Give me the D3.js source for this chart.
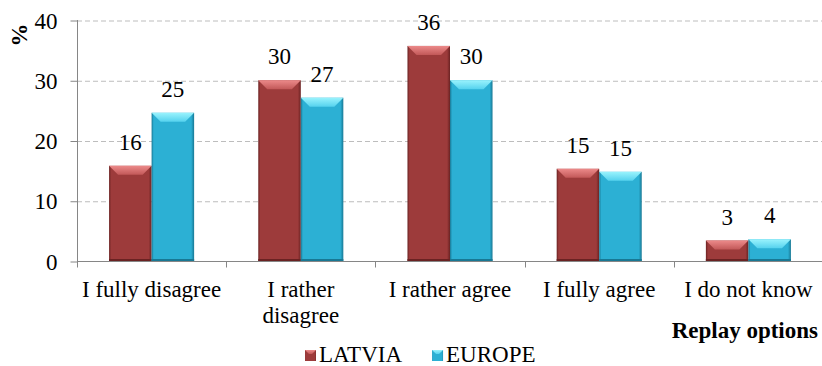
<!DOCTYPE html>
<html>
<head>
<meta charset="utf-8">
<script src="https://cdn.jsdelivr.net/npm/d3@7"></script>
<style>
    body { margin: 0; background: #fff; }
    svg text { font-family: "Liberation Serif", "Times New Roman", "DejaVu Serif", serif !important; fill: #000; }
</style>
</head>
<body>
<div class="chart"></div>
<script>
const categories = ["I fully disagree", "I rather disagree", "I rather agree", "I fully agree", "I do not know"];
const seriesNames = ["LATVIA", "EUROPE"];
const latvia = [15.8, 30, 35.7, 15.3, 3.4];
const europe = [24.6, 27.1, 30, 14.8, 3.6];
const yTicks = [0, 10, 20, 30, 40];

const FONT = '"Liberation Serif", "Times New Roman", serif';
const colors = {
    LATVIA: { body: "#9d3b3b", edge: "#6a2222", top1: "#ec8a8a", top2: "#c25858" },
    EUROPE: { body: "#2cb0d4", edge: "#187894", top1: "#9af3fd", top2: "#55d2ee" }
};

function init() {
    let W = 822, H = 366;
    let margin = { top: 20, right: -1, bottom: 105, left: 77 };
    let width = W - margin.left - margin.right;
    let height = H - margin.top - margin.bottom;

    let svg = d3.select(".chart").append("svg")
        .attr("width", W)
        .attr("height", H)
        .attr("font-family", FONT);

    let defs = svg.append("defs");
    seriesNames.forEach(s => {
        let g = defs.append("linearGradient").attr("id", "body-" + s)
            .attr("x1", 0).attr("x2", 1).attr("y1", 0).attr("y2", 0);
        g.append("stop").attr("offset", "0%").attr("stop-color", colors[s].edge);
        g.append("stop").attr("offset", "5%").attr("stop-color", colors[s].body);
        g.append("stop").attr("offset", "93%").attr("stop-color", colors[s].body);
        g.append("stop").attr("offset", "100%").attr("stop-color", colors[s].edge);
        let t = defs.append("linearGradient").attr("id", "top-" + s)
            .attr("x1", 0).attr("x2", 0).attr("y1", 0).attr("y2", 1);
        t.append("stop").attr("offset", "0%").attr("stop-color", colors[s].top1);
        t.append("stop").attr("offset", "100%").attr("stop-color", colors[s].top2);
    });

    let plot = svg.append("g")
        .attr("transform", `translate(${margin.left},${margin.top})`);

    let x0 = d3.scaleBand()
        .domain(categories)
        .range([0, width])
        .paddingInner(0.43)
        .paddingOuter(0.215);

    let x1 = d3.scaleBand()
        .domain(seriesNames)
        .range([0, x0.bandwidth()]);

    let y = d3.scaleLinear()
        .domain([0, 40])
        .range([height, 0]);

    // dashed gridlines
    let grid = plot.append("g").attr("class", "grid")
        .call(d3.axisLeft(y).tickValues(yTicks.slice(1)).tickSize(-width).tickFormat(""));
    grid.select(".domain").remove();
    grid.selectAll("line")
        .attr("stroke", "#bdbdbd")
        .attr("stroke-dasharray", "5,3")
        .attr("transform", "translate(0,0.5)");

    // y axis
    let yAxis = plot.append("g").attr("class", "y-axis")
        .attr("transform", "translate(0.5,0)")
        .call(d3.axisLeft(y).tickValues(yTicks).tickSize(7).tickPadding(13));
    yAxis.attr("font-family", FONT);
    yAxis.select(".domain").attr("stroke", "#868686").attr("d", `M0,${y(40)}V${height}`);
    yAxis.selectAll(".tick line").attr("stroke", "#868686").attr("transform", "translate(0,0.5)");
    yAxis.selectAll(".tick text")
        .style("font-family", FONT)
        .style("font-size", "23px")
        .attr("dy", "0.35em");

    // bars
    let data = categories.map((c, i) => ({
        cat: c,
        values: [{ s: "LATVIA", v: latvia[i] }, { s: "EUROPE", v: europe[i] }]
    }));

    let groups = plot.append("g").selectAll("g")
        .data(data).join("g")
        .attr("transform", d => `translate(${x0(d.cat)},0)`);

    let bars = groups.selectAll("g.bar")
        .data(d => d.values).join("g").attr("class", "bar");

    let bw = x1.bandwidth();
    let bev = 9;

    bars.append("rect")
        .attr("x", d => x1(d.s))
        .attr("y", d => y(d.v))
        .attr("width", bw)
        .attr("height", d => y(0) - y(d.v))
        .attr("fill", d => `url(#body-${d.s})`);

    bars.append("rect")
        .attr("x", d => x1(d.s))
        .attr("y", y(0) - 2)
        .attr("width", bw)
        .attr("height", 2)
        .attr("fill", d => colors[d.s].edge);

    bars.append("polygon")
        .attr("points", d => {
            let xa = x1(d.s), xb = xa + bw, yt = y(d.v);
            return [[xa, yt], [xb, yt], [xb - bev, yt + bev], [xa + bev, yt + bev]].join(" ");
        })
        .attr("fill", d => `url(#top-${d.s})`);

    bars.append("text")
        .attr("x", d => x1(d.s) + bw / 2)
        .attr("y", d => y(d.v) - 16)
        .attr("text-anchor", "middle")
        .style("font-family", FONT)
        .style("font-size", "23px")
        .text(d => d3.format(".0f")(d.v));

    // x axis line and boundary ticks
    let xAxis = plot.append("g").attr("class", "x-axis")
        .attr("transform", `translate(0,${height + 0.5})`);
    xAxis.append("line")
        .attr("x1", 0).attr("x2", width)
        .attr("stroke", "#868686");
    xAxis.selectAll("line.tick")
        .data(d3.range(categories.length))
        .join("line").attr("class", "tick")
        .attr("x1", i => Math.round(i * x0.step()) + 0.5)
        .attr("x2", i => Math.round(i * x0.step()) + 0.5)
        .attr("y1", 0).attr("y2", 6)
        .attr("stroke", "#868686");

    let labels = xAxis.selectAll("text.cat")
        .data(categories).join("text").attr("class", "cat")
        .attr("x", d => x0(d) + x0.bandwidth() / 2)
        .attr("y", 35)
        .attr("text-anchor", "middle")
        .style("font-family", FONT)
        .style("font-size", "23px")
        .text(d => d);
    labels.call(wrap, x0.step() - 4);

    // axis titles
    svg.append("text")
        .attr("transform", "translate(27,35) rotate(-90)")
        .attr("text-anchor", "middle")
        .style("font-family", FONT)
        .style("font-size", "23px")
        .style("font-weight", "bold")
        .text("%");

    svg.append("text")
        .attr("x", 818)
        .attr("y", 338)
        .attr("text-anchor", "end")
        .style("font-family", FONT)
        .style("font-size", "23px")
        .style("font-weight", "bold")
        .text("Replay options");

    // legend
    let legend = svg.append("g").attr("transform", "translate(305,350)");
    let lx = 0;
    seriesNames.forEach(s => {
        let item = legend.append("g").attr("transform", `translate(${lx},0)`);
        item.append("rect").attr("width", 11).attr("height", 11).attr("fill", `url(#body-${s})`);
        item.append("polygon")
            .attr("points", [[0, 0], [11, 0], [7, 4], [4, 4]].join(" "))
            .attr("fill", `url(#top-${s})`);
        let t = item.append("text")
            .attr("x", 14).attr("y", 12)
            .style("font-family", FONT)
            .style("font-size", "23px")
            .text(s);
        lx += 14 + t.node().getComputedTextLength() + 30;
    });
}

function wrap(text, width) {
    text.each(function() {
        let t = d3.select(this);
        let words = t.text().split(/\s+/);
        let xPos = t.attr("x");
        let line = [];
        let tspan = t.text(null).append("tspan").attr("x", xPos);
        words.forEach(w => {
            line.push(w);
            tspan.text(line.join(" "));
            if (tspan.node().getComputedTextLength() > width && line.length > 1) {
                line.pop();
                tspan.text(line.join(" "));
                line = [w];
                tspan = t.append("tspan").attr("x", xPos).attr("dy", "26px").text(w);
            }
        });
    });
}

init();
</script>
</body>
</html>
